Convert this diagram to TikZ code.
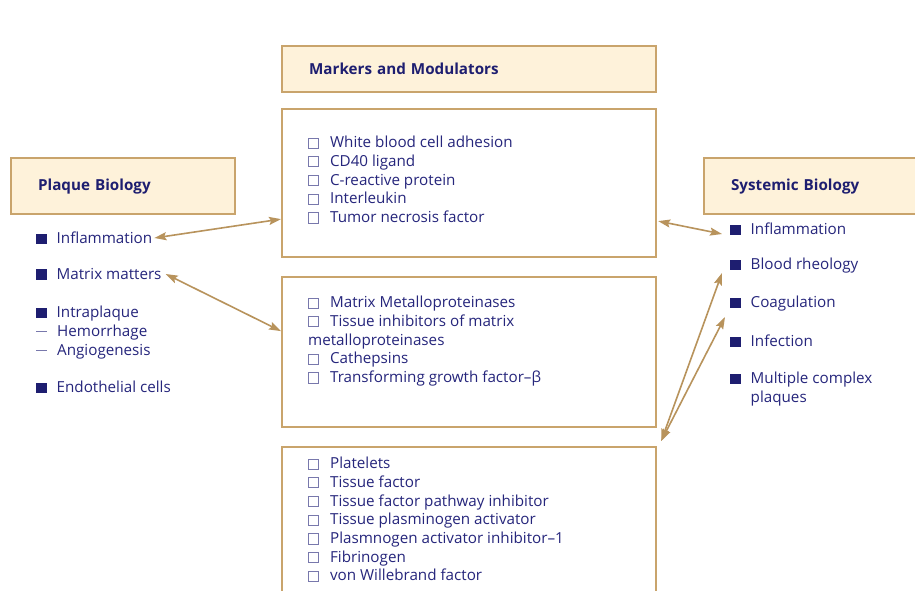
\documentclass[tikz,border=0pt]{standalone}
\usepackage{fontspec}
\setmainfont{Open Sans}
\usetikzlibrary{arrows.meta}
\definecolor{tanc}{HTML}{C9A46C}
\definecolor{cream}{HTML}{FEF2DA}
\definecolor{navy}{HTML}{1E1E70}
\definecolor{bodyc}{HTML}{26267C}
\definecolor{chkc}{HTML}{7878AC}
\definecolor{arrc}{HTML}{B8935C}
\newcommand{\chk}{{\color{chkc}\setlength{\fboxrule}{0.7pt}\setlength{\fboxsep}{0pt}\fbox{\rule{0pt}{9.5pt}\rule{9.5pt}{0pt}}}}
\newcommand{\bsq}{{\color{navy}\rule[-0.5pt]{10.5pt}{10.5pt}}}
\newcommand{\dsh}{{\color{chkc}\rule[4pt]{11pt}{1pt}}}
\begin{document}
\begin{tikzpicture}[x=1pt,y=-1pt,
  font=\fontsize{15.2}{18.7}\selectfont,
  hdr/.style={draw=tanc, line width=2.2pt, fill=cream, inner xsep=27pt, inner ysep=0pt,
    font=\fontsize{15.2}{17}\selectfont\bfseries, text=navy, align=left, anchor=north west},
  cbox/.style={draw=tanc, line width=2.2pt, fill=white, anchor=north west, inner sep=0pt},
  lst/.style={text=bodyc, inner sep=0pt, align=left, anchor=north west},
  item/.style={text=bodyc, inner sep=1pt, align=left, anchor=west},
  arr/.style={draw=arrc, line width=1.6pt, {Stealth[length=12pt,width=8pt,inset=2pt]}-{Stealth[length=12pt,width=8pt,inset=2pt]}}]
\fill[white] (0,0) rectangle (915,590);
\useasboundingbox (0,0) rectangle (915,590);

% headers
\node[hdr, minimum width=374pt, minimum height=46pt, text width=320pt] (mm) at (281,45) {Markers and Modulators};
\node[hdr, minimum width=224pt, minimum height=56pt, text width=170pt] (pb) at (10,157) {Plaque Biology};
\node[hdr, minimum width=230pt, minimum height=56pt, text width=176pt] (sb) at (703,157) {Systemic Biology};

% central boxes
\node[cbox, minimum width=374pt, minimum height=148pt] (b1) at (281,108) {};
\node[cbox, minimum width=374pt, minimum height=150pt] (b2) at (281,276) {};
\node[cbox, minimum width=374pt, minimum height=170pt] (b3) at (281,446) {};

\node[lst] (t1) at (308,136) {\chk\hspace{11pt}White blood cell adhesion\\
\chk\hspace{11pt}CD40 ligand\\
\chk\hspace{11pt}C-reactive protein\\
\chk\hspace{11pt}Interleukin\\
\chk\hspace{11pt}Tumor necrosis factor};

\node[lst] (t2) at (308,296) {\chk\hspace{11pt}Matrix Metalloproteinases\\
\chk\hspace{11pt}Tissue inhibitors of matrix\\
metalloproteinases\\
\chk\hspace{11pt}Cathepsins\\
\chk\hspace{11pt}Transforming growth factor–β};

\node[lst] (t3) at (308,457) {\chk\hspace{11pt}Platelets\\
\chk\hspace{11pt}Tissue factor\\
\chk\hspace{11pt}Tissue factor pathway inhibitor\\
\chk\hspace{11pt}Tissue plasminogen activator\\
\chk\hspace{11pt}Plasmnogen activator inhibitor–1\\
\chk\hspace{11pt}Fibrinogen\\
\chk\hspace{11pt}von Willebrand factor};

% left items
\node[item] (pInfl) at (35,238) {\bsq\hspace{10pt}Inflammation};
\node[item] (pMat) at (35,274) {\bsq\hspace{10pt}Matrix matters};
\node[lst] (pIntra) at (36,306) {\bsq\hspace{10pt}Intraplaque\\
\dsh\hspace{10pt}Hemorrhage\\
\dsh\hspace{10pt}Angiogenesis};
\node[item] (pEndo) at (35,387) {\bsq\hspace{10pt}Endothelial cells};

% right items
\node[item] (sInfl) at (729,229) {\bsq\hspace{10pt}Inflammation};
\node[item] (sBlood) at (729,266) {\bsq\hspace{10pt}Blood rheology};
\node[item] (sCoag) at (729,304) {\bsq\hspace{10pt}Coagulation};
\node[item] (sInf) at (729,341) {\bsq\hspace{10pt}Infection};
\node[lst] (sMult) at (730,372) {\bsq\hspace{10pt}Multiple complex\\
\hspace*{20.5pt}plaques};

% connectors
\draw[arr] ([xshift=1pt]pInfl.east) -- ([yshift=-36pt]b1.west);
\draw[arr] ([xshift=3pt]pMat.east) -- ([yshift=21pt]b2.west);
\draw[arr] ([yshift=-38pt,xshift=1pt]b1.east) -- ([xshift=-7pt,yshift=-5pt]sInfl.west);
\draw[arr] ([xshift=4pt,yshift=5pt]b3.north east) -- ([xshift=-7pt,yshift=-7pt]sBlood.west);
\draw[arr] ([xshift=4pt,yshift=5pt]b3.north east) -- ([xshift=-4pt,yshift=-13pt]sCoag.west);
\end{tikzpicture}
\end{document}
